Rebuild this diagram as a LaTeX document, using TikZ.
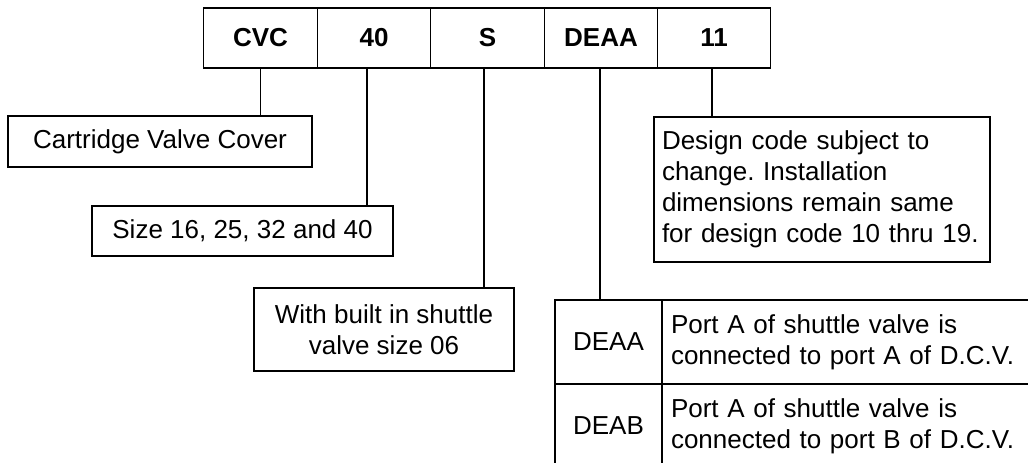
\documentclass[tikz,border=0pt]{standalone}
\usepackage{fontspec}
\setmainfont{Liberation Sans}
\frenchspacing
\begin{document}
\begin{tikzpicture}[x=1pt,y=-1pt,
  every node/.style={font=\fontsize{26}{31}\selectfont},
  codebox/.style={draw=black,line width=1.1pt,minimum width=113.3pt,minimum height=60pt,inner sep=0pt,font=\fontsize{26}{31}\selectfont\bfseries},
  descbox/.style={draw=black,line width=1.1pt,inner sep=0pt,align=center},
  cellbox/.style={draw=black,line width=1.1pt,inner sep=0pt},
  conn/.style={draw=black,line width=1.1pt}]
\useasboundingbox (0,0) rectangle (1028,463);
\fill[white] (0,0) rectangle (1028,463);
% top code row
\node[codebox] (cvc)  at (260.5,38) {CVC};
\node[codebox] (n40)  at (374,38)   {40};
\node[codebox] (s)    at (487.5,38) {S};
\node[codebox] (deaa) at (601,38)   {DEAA};
\node[codebox] (n11)  at (714,38)   {11};
% description boxes
\node[descbox,minimum width=304pt,minimum height=51pt] (cart) at (160,141.5) {Cartridge Valve Cover};
\node[descbox,minimum width=301pt,minimum height=50pt] (size) at (242.5,231) {Size 16, 25, 32 and 40};
\node[descbox,minimum width=260pt,minimum height=83pt] (shut) at (384,329.5) {With built in shuttle\\valve size 06};
\node[descbox,align=left,text width=320pt,inner xsep=8pt,minimum height=145pt] (design) at (822,189.5)
  {Design code subject to\\change. Installation\\dimensions remain same\\for design code 10 thru 19.};
% table
\begin{scope}
\clip (0,0) rectangle (1028,463);
\node[cellbox,minimum width=107pt,minimum height=84pt] (ta1) at (608.5,342) {DEAA};
\node[cellbox,minimum width=107pt,minimum height=84pt] (ta2) at (608.5,426) {DEAB};
\node[cellbox,minimum width=380pt,minimum height=84pt,align=left,text width=362pt,inner xsep=9pt] (tb1) at (852,342)
  {Port A of shuttle valve is\\connected to port A of D.C.V.};
\node[cellbox,minimum width=380pt,minimum height=84pt,align=left,text width=362pt,inner xsep=9pt] (tb2) at (852,426)
  {Port A of shuttle valve is\\connected to port B of D.C.V.};
\end{scope}
% connectors
\draw[conn] (cvc.south) -- (cvc.south |- cart.north);
\draw[conn] ([xshift=-7pt]n40.south) -- ([xshift=-7pt]n40.south |- size.north);
\draw[conn] ([xshift=-3.5pt]s.south) -- ([xshift=-3.5pt]s.south |- shut.north);
\draw[conn] ([xshift=-1pt]deaa.south) -- ([xshift=-1pt]deaa.south |- ta1.north);
\draw[conn] ([xshift=-2pt]n11.south) -- ([xshift=-2pt]n11.south |- design.north);
\end{tikzpicture}
\end{document}
